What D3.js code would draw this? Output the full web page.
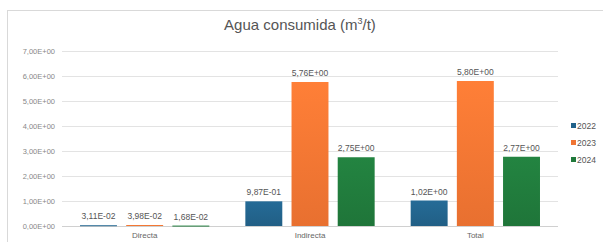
<!DOCTYPE html>
<html>
<head>
<meta charset="utf-8">
<script src="https://cdn.jsdelivr.net/npm/d3@7"></script>
<style>
  body { margin: 0; background: #fff; }
  text { font-family: "Liberation Sans", Arial, sans-serif; }
</style>
</head>
<body>
<svg id="chart" width="603" height="242"></svg>
<script>
var categories = ['Directa', 'Indirecta', 'Total'];
var years = ['2022', '2023', '2024'];
var values2022 = [0.0311, 0.987, 1.02];
var values2023 = [0.0398, 5.76, 5.80];
var values2024 = [0.0168, 2.75, 2.77];
var yTicks = [0, 1, 2, 3, 4, 5, 6, 7];
var colors = ['#22628a', '#f07432', '#20793b'];

var series = [values2022, values2023, values2024];
var data = categories.map(function(c, i) {
  return {category: c, values: years.map(function(y, j) { return {year: y, value: series[j][i]}; })};
});

// Spanish-style scientific notation: 3,11E-02
function sci(v) {
  var s = v.toExponential(2).replace('.', ',').toUpperCase();
  return s.replace(/E([+-])(\d)$/, 'E$10$2');
}

var svg = d3.select('#chart');
var margin = {left: 62, right: 45, top: 51, bottom: 16};
var width = 603 - margin.left - margin.right;
var height = 242 - margin.top - margin.bottom;

// Outer frame.
svg.append('rect')
    .attr('x', 7.5).attr('y', 10.5)
    .attr('width', 600).attr('height', 240)
    .style('fill', 'none')
    .style('stroke', '#d9d9d9');

svg.append('text')
    .attr('x', 300).attr('y', 30)
    .attr('text-anchor', 'middle')
    .style('font-size', '15px')
    .style('fill', '#555')
    .text('Agua consumida (m')
  .append('tspan')
    .attr('dy', -6).style('font-size', '9px').text('3')
  .select(function() { return this.parentNode; })
  .append('tspan')
    .attr('dy', 6).text('/t)');

var g = svg.append('g').attr('transform', 'translate(' + margin.left + ',' + margin.top + ')');

var x0 = d3.scaleBand().domain(categories).range([0, width]);
var x1 = d3.scaleBand().domain(years).range([0, x0.bandwidth()])
    .paddingInner(0.2).paddingOuter(0.39);
var y = d3.scaleLinear().domain([0, 7]).range([height, 0]);

// Gridlines and y labels.
g.selectAll('.grid').data(yTicks).enter().append('line')
    .attr('x1', 0).attr('x2', width)
    .attr('y1', function(d) { return y(d) + 0.5; })
    .attr('y2', function(d) { return y(d) + 0.5; })
    .style('stroke', function(d) { return d === 0 ? '#d0d0d0' : '#e3e3e3'; });

g.selectAll('.ylab').data(yTicks).enter().append('text')
    .attr('x', -7)
    .attr('y', function(d) { return y(d) + 3; })
    .attr('text-anchor', 'end')
    .style('font-size', '7.5px')
    .style('fill', '#888')
    .text(function(d) { return sci(d); });

// Gradients for bars.
var defs = svg.append('defs');
colors.forEach(function(c, i) {
  var grad = defs.append('linearGradient').attr('id', 'grad' + i)
      .attr('x1', 0).attr('x2', 0).attr('y1', 0).attr('y2', 1);
  grad.append('stop').attr('offset', '0%').attr('stop-color', d3.color(c).brighter(0.25));
  grad.append('stop').attr('offset', '100%').attr('stop-color', d3.color(c).darker(0.1));
});

var groups = g.selectAll('.group').data(data).enter().append('g')
    .attr('transform', function(d) { return 'translate(' + x0(d.category) + ',0)'; });

groups.selectAll('rect').data(function(d) { return d.values; }).enter().append('rect')
    .attr('x', function(d) { return x1(d.year); })
    .attr('y', function(d) { return y(d.value); })
    .attr('width', x1.bandwidth())
    .attr('height', function(d) { return Math.max(1, height - y(d.value)); })
    .style('fill', function(d, i) { return 'url(#grad' + i + ')'; });

groups.selectAll('.val').data(function(d) { return d.values; }).enter().append('text')
    .attr('x', function(d) { return x1(d.year) + x1.bandwidth() / 2; })
    .attr('y', function(d) { return y(d.value) - 6; })
    .attr('text-anchor', 'middle')
    .style('font-size', '8.5px')
    .style('fill', '#555')
    .text(function(d) { return sci(d.value); });

g.selectAll('.xlab').data(categories).enter().append('text')
    .attr('x', function(d) { return x0(d) + x0.bandwidth() / 2; })
    .attr('y', height + 12)
    .attr('text-anchor', 'middle')
    .style('font-size', '8px')
    .style('fill', '#666')
    .text(function(d) { return d; });

// Legend.
var legend = svg.append('g').attr('transform', 'translate(571,127)');
var items = legend.selectAll('g').data(years).enter().append('g')
    .attr('transform', function(d, i) { return 'translate(0,' + i * 17 + ')'; });
items.append('rect')
    .attr('x', 0).attr('y', -4).attr('width', 5).attr('height', 5)
    .style('fill', function(d, i) { return colors[i]; });
items.append('text')
    .attr('x', 6).attr('y', 1.5)
    .style('font-size', '8.5px')
    .style('fill', '#555')
    .text(function(d) { return d; });
</script>
</body>
</html>
